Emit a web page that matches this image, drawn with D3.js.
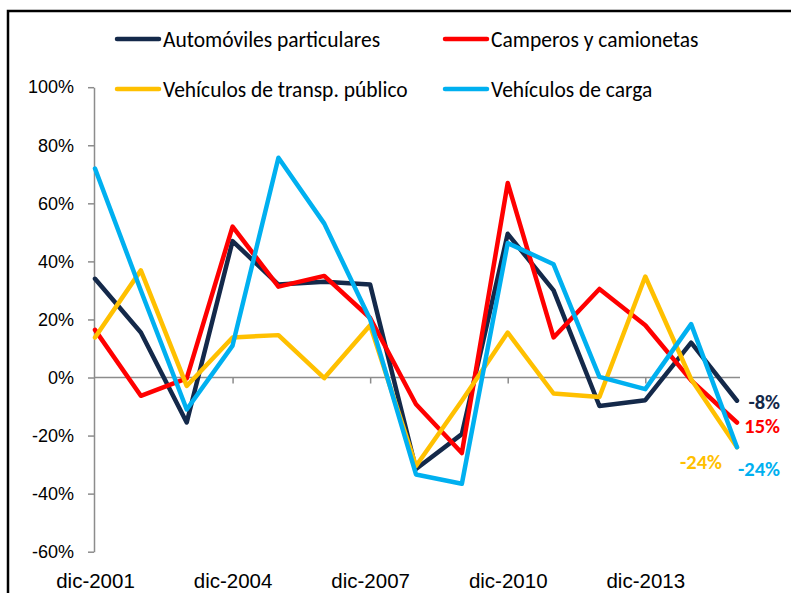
<!DOCTYPE html>
<html>
<head>
<meta charset="utf-8">
<script src="https://cdn.jsdelivr.net/npm/d3@7"></script>
<style>
  body { margin: 0; background: #fff; }
  svg { display: block; font-family: Carlito, Calibri, Lato, sans-serif; }
  .axis text { font-size: 18px; fill: #000; }
  .xlabels text { font-size: 20.5px; }
  .axis path, .axis line { stroke: #8c8c8c; stroke-width: 1.5; }
  .legend text { font-size: 21.5px; fill: #000; }
  .endlabel { font-size: 20.5px; font-weight: bold; }
</style>
</head>
<body>
<svg width="791" height="593"></svg>
<script>
// categories (one point per year, December)
var categories = ['dic-2001', 'dic-2002', 'dic-2003', 'dic-2004', 'dic-2005', 'dic-2006', 'dic-2007',
    'dic-2008', 'dic-2009', 'dic-2010', 'dic-2011', 'dic-2012', 'dic-2013', 'dic-2014', 'dic-2015'];

// annual growth, %
var automoviles = [34, 15.5, -15.5, 47, 32, 33, 32, -31.5, -19.5, 49.5, 30, -9.8, -7.8, 12, -8];
var camperos = [16.4, -6.3, -0.3, 52, 31.3, 35, 20.5, -9.2, -26, 67, 13.8, 30.5, 18, -1, -15.5];
var publico = [13.8, 36.9, -2.9, 13.8, 14.6, -0.2, 18, -30.5, -8, 15.5, -5.5, -6.7, 34.8, -0.6, -24];
var carga = [72, 30, -11, 11, 75.7, 53, 20, -33.4, -36.6, 46.3, 39, 0.2, -4, 18.4, -24];

var seriesNames = ['Automóviles particulares', 'Camperos y camionetas', 'Vehículos de transp. público', 'Vehículos de carga'];
var seriesColors = ['#14294a', '#ff0000', '#ffc000', '#00b0f0'];
var endLabels = ['-8%', '15%', '-24%', '-24%'];

var xTickLabels = ['dic-2001', 'dic-2004', 'dic-2007', 'dic-2010', 'dic-2013'];
var yTicks = [-60, -40, -20, 0, 20, 40, 60, 80, 100];

var svg = d3.select('svg');

// outer frame of the chart area
svg.append('rect')
    .attr('x', 8).attr('y', 11)
    .attr('width', 820).attr('height', 620)
    .attr('fill', 'none')
    .attr('stroke', '#000')
    .attr('stroke-width', 2.5);

var x = d3.scalePoint()
    .domain(categories)
    .range([95, 737]);

var y = d3.scaleLinear()
    .domain([-60, 100])
    .range([551.7, 87.2]);

// y axis
svg.append('g')
    .attr('class', 'axis')
    .attr('transform', 'translate(94,0)')
    .call(d3.axisLeft(y).tickValues(yTicks).tickSize(6).tickSizeOuter(0).tickPadding(14)
        .tickFormat(function(d) { return d + '%'; }));

// x axis line sits on 0%
var xAxisG = svg.append('g')
    .attr('class', 'axis')
    .attr('transform', 'translate(0,' + y(0) + ')')
    .call(d3.axisBottom(x).tickValues(xTickLabels.slice(1)).tickSize(6).tickSizeOuter(0).tickFormat(''));
xAxisG.select('.domain').attr('d', 'M94,0H740');

// category labels at the bottom
svg.append('g')
    .attr('class', 'axis xlabels')
    .attr('transform', 'translate(0,' + y(-60) + ')')
    .call(d3.axisBottom(x).tickValues(xTickLabels).tickSize(0).tickPadding(22))
    .call(function(g) { g.select('.domain').remove(); });

var allSeries = [automoviles, camperos, publico, carga];

var line = d3.line()
    .x(function(d, i) { return x(categories[i]); })
    .y(function(d) { return y(d); });

svg.selectAll('.series')
    .data(allSeries)
    .enter()
    .append('path')
    .attr('class', 'series')
    .attr('d', line)
    .attr('fill', 'none')
    .attr('stroke', function(d, i) { return seriesColors[i]; })
    .attr('stroke-width', 4.5)
    .attr('stroke-linejoin', 'round')
    .attr('stroke-linecap', 'round');

// end-of-line value labels (right edge of text)
var labelOffsets = [[43, 1], [43, 3], [-15, 15], [43, 22]];
svg.selectAll('.endlabel')
    .data(allSeries)
    .enter()
    .append('text')
    .attr('class', 'endlabel')
    .attr('text-anchor', 'end')
    .attr('x', function(d, i) { return x(categories[categories.length - 1]) + labelOffsets[i][0]; })
    .attr('y', function(d, i) { return y(d[d.length - 1]) + labelOffsets[i][1]; })
    .attr('dy', '0.35em')
    .attr('fill', function(d, i) { return seriesColors[i]; })
    .text(function(d, i) { return endLabels[i]; });

// legend, two rows of two
var legendPos = [[115, 39], [443, 39], [115, 89], [443, 89]];
var legend = svg.append('g').attr('class', 'legend');
var items = legend.selectAll('g')
    .data(seriesNames)
    .enter()
    .append('g')
    .attr('transform', function(d, i) { return 'translate(' + legendPos[i] + ')'; });
items.append('line')
    .attr('x1', 2).attr('x2', 44)
    .attr('stroke', function(d, i) { return seriesColors[i]; })
    .attr('stroke-width', 4.5)
    .attr('stroke-linecap', 'round');
items.append('text')
    .attr('x', 48)
    .attr('dy', '0.35em')
    .text(function(d) { return d; });
</script>
</body>
</html>
